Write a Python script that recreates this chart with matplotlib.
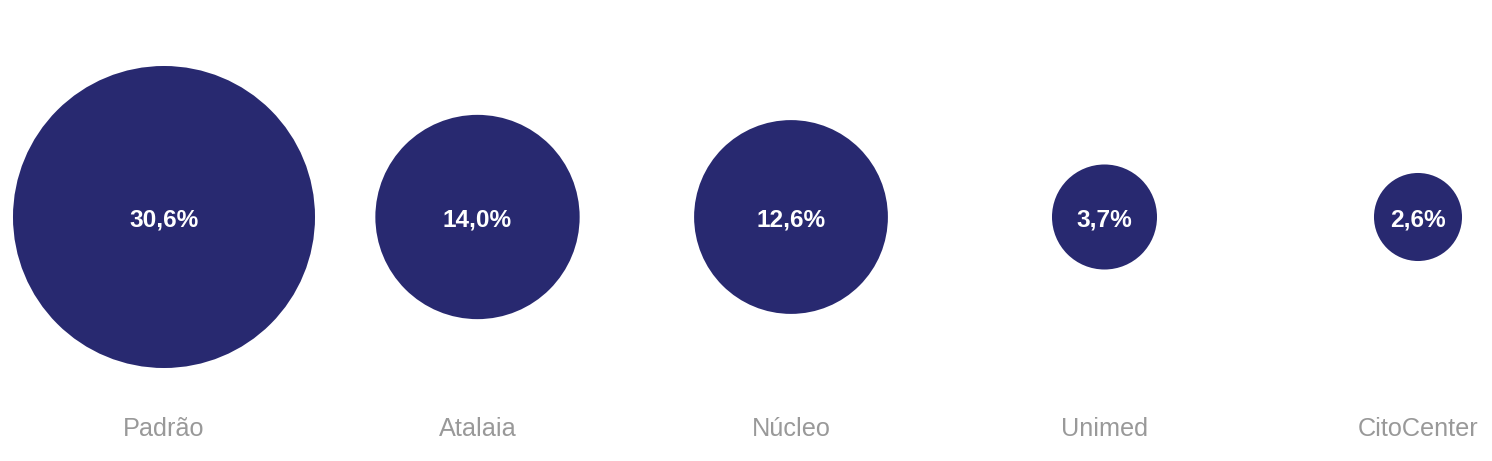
import matplotlib.pyplot as plt
from matplotlib.patches import Circle
import numpy as np

plt.rcParams['font.family'] = ['Liberation Sans', 'DejaVu Sans']

labs = ['Padrão', 'Atalaia', 'Núcleo', 'Unimed', 'CitoCenter']
vals = [30.6, 14.0, 12.6, 3.7, 2.6]
val_txt = ['30,6%', '14,0%', '12,6%', '3,7%', '2,6%']

fig = plt.figure(figsize=(14.92, 4.61), dpi=100)
ax = fig.add_axes([0, 0, 1, 1])

step = 313.5  # px per category
scale = 27.3 / step  # radius per sqrt(value), in data units

for i, (v, t, l) in enumerate(zip(vals, val_txt, labs)):
    r = scale * np.sqrt(v)
    ax.add_patch(Circle((i, 0), r, color='#282970', lw=0))
    ax.text(i, -3 / step, t, ha='center', va='center', color='white',
            fontsize=17.6, fontweight='bold')
    ax.text(i, -212 / step, l, ha='center', va='center', color='#999999',
            fontsize=18.2)

ax.set_xlim(-164 / step, 4 + 74 / step)
ax.set_ylim(-244 / step, 217 / step)
ax.set_aspect('equal')
ax.axis('off')

plt.savefig('out.png', dpi=100)
